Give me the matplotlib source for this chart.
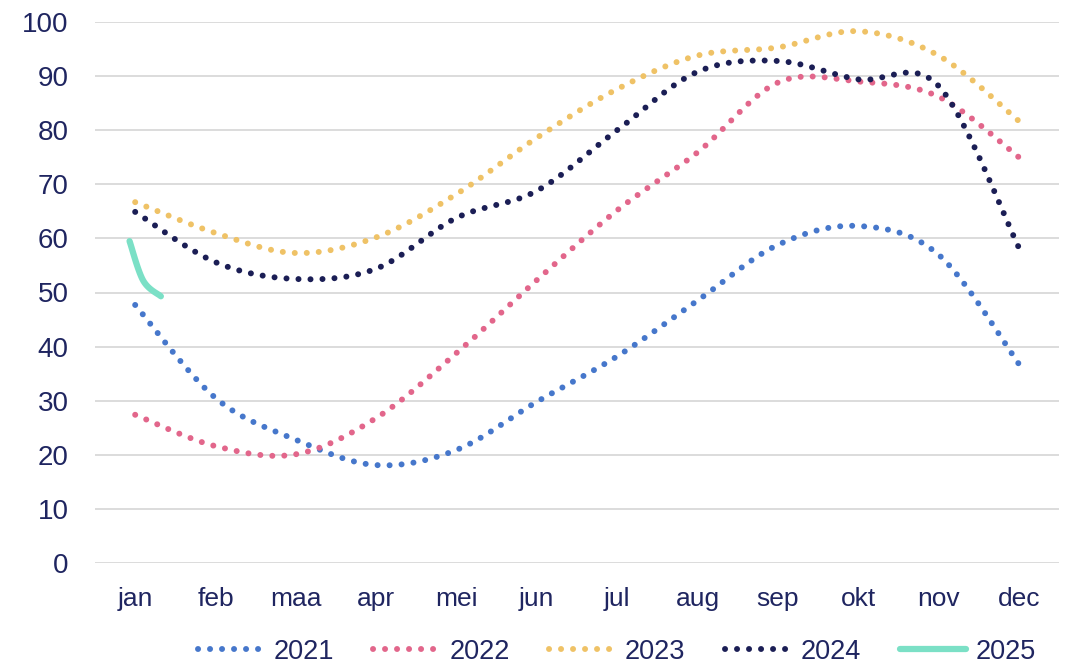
import numpy as np
import matplotlib
matplotlib.use("Agg")
import matplotlib.pyplot as plt

# maanden op de x-as
maanden = ["jan", "feb", "maa", "apr", "mei", "jun", "jul", "aug", "sep", "okt", "nov", "dec"]

w2021 = [47.7, 30.5, 22.8, 18.1, 20.9, 29.8, 38.2, 48.5, 58.8, 62.3, 57.0, 36.8]
w2022 = [27.4, 21.6, 20.1, 26.8, 38.8, 52.3, 65.2, 75.9, 88.8, 89.0, 86.2, 75.0]
w2023 = [66.7, 61.0, 57.3, 60.2, 68.2, 78.6, 87.6, 93.8, 95.3, 98.3, 93.8, 81.7]
w2024 = [64.9, 55.6, 52.5, 54.4, 63.8, 68.8, 80.0, 90.8, 92.8, 89.4, 88.2, 58.3]
x2025 = [-0.07, 0.1, 0.32]
w2025 = [59.5, 52.2, 49.3]

kleuren = {"2021": "#4677CB", "2022": "#E2668B", "2023": "#EFC266",
           "2024": "#1B1E55", "2025": "#7BE0C6"}
tekst = "#1F2560"


def glad(x, y, n=30):
    # catmull-rom zoals de 'vloeiende lijn' van Excel
    x = np.asarray(x, float)
    y = np.asarray(y, float)
    px = np.concatenate([[x[0]], x, [x[-1]]])
    py = np.concatenate([[y[0]], y, [y[-1]]])
    t = np.linspace(0, 1, n)
    xs, ys = [], []
    for i in range(1, len(px) - 2):
        for p, out in ((px, xs), (py, ys)):
            p0, p1, p2, p3 = p[i - 1], p[i], p[i + 1], p[i + 2]
            m1 = (p2 - p0) / 2
            m2 = (p3 - p1) / 2
            h00 = 2 * t**3 - 3 * t**2 + 1
            h10 = t**3 - 2 * t**2 + t
            h01 = -2 * t**3 + 3 * t**2
            h11 = t**3 - t**2
            out.extend(h00 * p1 + h10 * m1 + h01 * p2 + h11 * m2)
    return np.array(xs), np.array(ys)


plt.rcParams["font.family"] = ["Liberation Sans", "DejaVu Sans"]

fig = plt.figure(figsize=(10.71, 6.67), dpi=100)
ax = fig.add_axes([95 / 1071, 104 / 667, 964 / 1071, 541 / 667])

x = np.arange(len(maanden))
for jaar, waarden in (("2021", w2021), ("2022", w2022), ("2023", w2023), ("2024", w2024)):
    gx, gy = glad(x, waarden)
    ax.plot(gx, gy, color=kleuren[jaar], lw=4.3, linestyle=(0, (0.01, 2.0)),
            dash_capstyle="round", label=jaar)

gx, gy = glad(x2025, w2025)
ax.plot(gx, gy, color=kleuren["2025"], lw=4.5, solid_capstyle="round", label="2025")

ax.set_xlim(-0.5, 11.5)
ax.set_ylim(0, 100)
ax.set_xticks(x)
ax.set_xticklabels(maanden)
ax.set_yticks(np.arange(0, 101, 10))
ax.tick_params(axis="y", length=0, pad=19, labelsize=20, labelcolor=tekst)
ax.tick_params(axis="x", length=0, pad=17, labelsize=19, labelcolor=tekst)
for s in ax.spines.values():
    s.set_visible(False)
ax.grid(axis="y", color="#D9D9D9", lw=1.3)
ax.set_axisbelow(True)

fig.legend(loc="center", bbox_to_anchor=(0.576, 0.023), ncol=5, frameon=False,
           fontsize=19.5, handlelength=2.45, handletextpad=0.35, columnspacing=1.45,
           labelcolor=tekst, borderpad=0)

fig.savefig("out.png", dpi=100)
plt.close(fig)
